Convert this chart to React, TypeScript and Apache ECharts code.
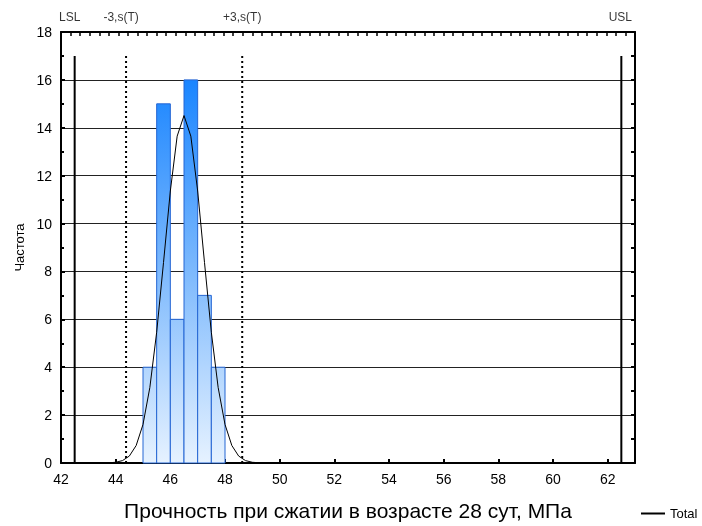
import React, { useEffect, useRef } from 'react';
import * as echarts from 'echarts';

// Histogram bins (lower edges), width and counts
const binStarts = [45, 45.5, 46, 46.5, 47, 47.5];
const binWidth = 0.5;
const counts = [4, 15, 6, 16, 7, 4];

// Fitted normal curve ("Total")
const curveX = [42, 43.5, 43.75, 44, 44.25, 44.5, 44.75, 45, 45.25, 45.5, 45.75, 46, 46.25, 46.5, 46.75, 47, 47.25, 47.5, 47.75, 48, 48.25, 48.5, 48.75, 49, 49.25, 49.5, 63];
const curveY = [0, 0, 0.01, 0.03, 0.1, 0.29, 0.73, 1.61, 3.15, 5.46, 8.37, 11.36, 13.65, 14.51, 13.65, 11.36, 8.37, 5.46, 3.15, 1.61, 0.73, 0.29, 0.1, 0.03, 0.01, 0, 0];

// Specification limits and ±3 sigma lines
const limitNames = ['LSL', '-3,s(T)', '+3,s(T)', 'USL'];
const limitValues = [42.5, 44.38, 48.63, 62.5];
const limitDotted = [false, true, true, false];
const limitTop = 17;

const xMin = 42;
const xMax = 63;
const xStep = 2;
const yMin = 0;
const yMax = 18;
const yStep = 2;

const FONT = '"Liberation Sans", Arial, sans-serif';
const labelShift = [-5, -5, 0, -1];

export default function App() {
  const ref = useRef<HTMLDivElement>(null);
  useEffect(() => {
    if (!ref.current) return;
    const chart = echarts.init(ref.current, undefined, { renderer: 'svg' });

    const barData = binStarts.map((s, i) => [s, s + binWidth, counts[i]]);
    const curveData = curveX.map((x, i) => [x, curveY[i]]);

    const limitSeries = limitValues.map((v, i) => ({
      type: 'line',
      name: 'lim' + i,
      data: [[v, 0], [v, limitTop]],
      symbol: 'none',
      silent: true,
      z: 5,
      lineStyle: { color: '#000', width: 2, type: limitDotted[i] ? [2, 3] : 'solid' },
    }));

    const labelData = limitValues.map((v, i) => ({
      value: [v, yMax, limitNames[i]],
      label: { offset: [labelShift[i], 0] },
    }));

    chart.setOption({
      animation: false,
      textStyle: { fontFamily: FONT },
      grid: { left: 61, top: 32, width: 574, height: 435, containLabel: false },
      legend: {
        data: [{ name: 'Total', icon: 'rect' }],
        left: 641,
        top: 507,
        padding: 0,
        itemWidth: 24,
        itemHeight: 2,
        itemGap: 4,
        textStyle: { fontSize: 13, color: '#000', fontFamily: FONT },
      },
      xAxis: [
        {
          type: 'value',
          min: xMin,
          max: xMax,
          interval: xStep,
          position: 'bottom',
          name: 'Прочность при сжатии в возрасте 28 сут, МПа',
          nameLocation: 'middle',
          nameGap: 37,
          nameTextStyle: { fontSize: 21, color: '#000', fontFamily: FONT },
          axisLine: { show: true, lineStyle: { color: '#000', width: 2 } },
          axisTick: { show: true, inside: true, length: 4, lineStyle: { color: '#000', width: 2 } },
          axisLabel: { fontSize: 14, color: '#000', margin: 9, fontFamily: FONT, showMaxLabel: false },
          splitLine: { show: false },
        },
        {
          type: 'value',
          min: xMin,
          max: xMax,
          interval: 0.35,
          position: 'top',
          axisLine: { show: true, onZero: false, lineStyle: { color: '#000', width: 2 } },
          axisTick: { show: true, inside: true, length: 4, lineStyle: { color: '#000', width: 1.5 } },
          axisLabel: { show: false },
          splitLine: { show: false },
        },
      ],
      yAxis: [
        {
          type: 'value',
          min: yMin,
          max: yMax,
          interval: yStep,
          position: 'left',
          name: 'Частота',
          nameLocation: 'middle',
          nameGap: 35,
          nameTextStyle: { fontSize: 13, color: '#000', fontFamily: FONT },
          axisLine: { show: true, onZero: false, lineStyle: { color: '#000', width: 2 } },
          axisTick: { show: true, inside: true, length: 4, lineStyle: { color: '#000', width: 2 } },
          minorTick: { show: true, splitNumber: 2, length: 3, lineStyle: { color: '#000', width: 2 } },
          axisLabel: { fontSize: 14, color: '#000', margin: 9, fontFamily: FONT },
          splitLine: { show: true, lineStyle: { color: '#222', width: 1 } },
        },
        {
          type: 'value',
          min: yMin,
          max: yMax,
          interval: 1,
          position: 'right',
          axisLine: { show: true, onZero: false, lineStyle: { color: '#000', width: 2 } },
          axisTick: { show: true, inside: true, length: 4, lineStyle: { color: '#000', width: 2 } },
          axisLabel: { show: false },
          splitLine: { show: false },
        },
      ],
      series: [
        {
          type: 'custom',
          name: 'hist',
          data: barData,
          encode: { x: [0, 1], y: 2 },
          z: 2,
          renderItem: (params: any, api: any) => {
            const x0 = api.value(0);
            const x1 = api.value(1);
            const c = api.value(2);
            const p0 = api.coord([x0, c]);
            const p1 = api.coord([x1, 0]);
            const gTop = api.coord([x0, 16])[1];
            const gBot = api.coord([x0, 0])[1];
            return {
              type: 'rect',
              shape: { x: p0[0], y: p0[1], width: p1[0] - p0[0], height: p1[1] - p0[1] },
              style: {
                fill: new echarts.graphic.LinearGradient(0, gTop, 0, gBot, [
                  { offset: 0, color: '#1a85ff' },
                  { offset: 0.5, color: '#7db9fd' },
                  { offset: 1, color: '#e6f2ff' },
                ], true),
                stroke: '#2566d4',
                lineWidth: 1,
              },
            };
          },
        },
        {
          type: 'line',
          name: 'Total',
          data: curveData,
          symbol: 'none',
          smooth: false,
          z: 4,
          lineStyle: { color: '#000', width: 1 },
          itemStyle: { color: '#000' },
        },
        ...limitSeries,
        {
          type: 'scatter',
          name: 'limLabels',
          data: labelData,
          symbolSize: 0,
          silent: true,
          clip: false,
          label: {
            show: true,
            position: 'top',
            distance: 9,
            fontSize: 12,
            color: '#000',
            fontFamily: FONT,
            formatter: (p: any) => p.value[2],
          },
        },
      ],
    });
    return () => chart.dispose();
  }, []);
  return <div ref={ref} style={{ position: 'fixed', left: 0, top: 0, width: 702, height: 526 }} />;
}
